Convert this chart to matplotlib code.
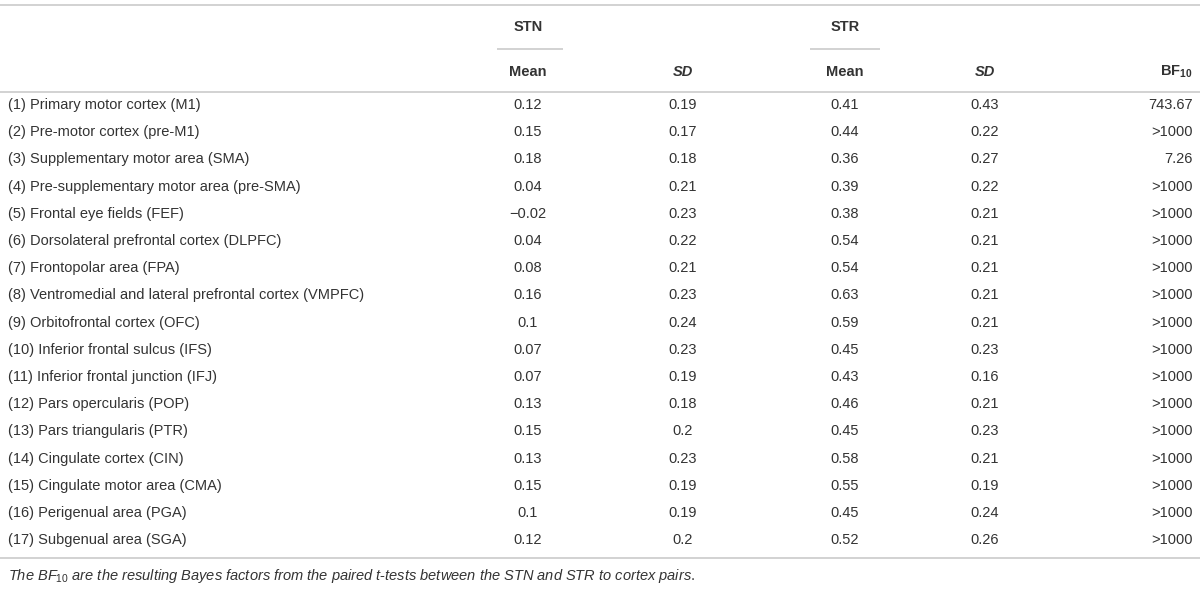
import matplotlib.pyplot as plt

regions = [
    '(1) Primary motor cortex (M1)',
    '(2) Pre-motor cortex (pre-M1)',
    '(3) Supplementary motor area (SMA)',
    '(4) Pre-supplementary motor area (pre-SMA)',
    '(5) Frontal eye fields (FEF)',
    '(6) Dorsolateral prefrontal cortex (DLPFC)',
    '(7) Frontopolar area (FPA)',
    '(8) Ventromedial and lateral prefrontal cortex (VMPFC)',
    '(9) Orbitofrontal cortex (OFC)',
    '(10) Inferior frontal sulcus (IFS)',
    '(11) Inferior frontal junction (IFJ)',
    '(12) Pars opercularis (POP)',
    '(13) Pars triangularis (PTR)',
    '(14) Cingulate cortex (CIN)',
    '(15) Cingulate motor area (CMA)',
    '(16) Perigenual area (PGA)',
    '(17) Subgenual area (SGA)',
]
stn_mean = [0.12, 0.15, 0.18, 0.04, -0.02, 0.04, 0.08, 0.16, 0.1, 0.07, 0.07, 0.13, 0.15, 0.13, 0.15, 0.1, 0.12]
stn_sd = [0.19, 0.17, 0.18, 0.21, 0.23, 0.22, 0.21, 0.23, 0.24, 0.23, 0.19, 0.18, 0.2, 0.23, 0.19, 0.19, 0.2]
str_mean = [0.41, 0.44, 0.36, 0.39, 0.38, 0.54, 0.54, 0.63, 0.59, 0.45, 0.43, 0.46, 0.45, 0.58, 0.55, 0.45, 0.52]
str_sd = [0.43, 0.22, 0.27, 0.22, 0.21, 0.21, 0.21, 0.21, 0.21, 0.23, 0.16, 0.21, 0.23, 0.21, 0.19, 0.24, 0.26]
bf10 = ['743.67', '>1000', '7.26'] + ['>1000'] * 14

footnote = ('$\\mathit{The\\ BF_{10}}$ $\\mathit{are\\ the\\ resulting\\ Bayes\\ factors\\ from\\ the\\ '
            'paired\\ t}$-$\\mathit{tests\\ between\\ the\\ STN\\ and\\ STR\\ to\\ cortex\\ pairs.}$')

plt.rcParams['font.family'] = ['Liberation Sans', 'DejaVu Sans']
plt.rcParams['mathtext.fontset'] = 'custom'
plt.rcParams['mathtext.rm'] = 'Liberation Sans'
plt.rcParams['mathtext.it'] = 'Liberation Sans:italic'
plt.rcParams['mathtext.bf'] = 'Liberation Sans:bold'

TXT = '#333333'
LINE = '#cfcfcf'
FS = 10.5


def fmt(v):
    return str(v).replace('-', '\u2212')


fig = plt.figure(figsize=(12, 5.9), dpi=100)
ax = fig.add_axes([0, 0, 1, 1])
ax.set_xlim(0, 1200)
ax.set_ylim(590, 0)
ax.axis('off')

# rules
ax.hlines([5, 92, 558], 0, 1200, color=LINE, lw=1.3)
ax.hlines(49, 497, 563, color=LINE, lw=1.3)
ax.hlines(49, 810, 880, color=LINE, lw=1.3)

# header
ax.text(528, 27, 'STN', ha='center', va='center', fontsize=FS, fontweight='bold', color=TXT)
ax.text(845, 27, 'STR', ha='center', va='center', fontsize=FS, fontweight='bold', color=TXT)
ax.text(528, 72, 'Mean', ha='center', va='center', fontsize=FS, fontweight='bold', color=TXT)
ax.text(683, 72, 'SD', ha='center', va='center', fontsize=FS, fontweight='bold', style='italic', color=TXT)
ax.text(845, 72, 'Mean', ha='center', va='center', fontsize=FS, fontweight='bold', color=TXT)
ax.text(985, 72, 'SD', ha='center', va='center', fontsize=FS, fontweight='bold', style='italic', color=TXT)
ax.text(1193, 72, '$\\mathbf{BF_{10}}$', ha='right', va='center', fontsize=FS, color=TXT)

# body
y0, dy = 105, 27.2
for i, name in enumerate(regions):
    y = y0 + i * dy
    ax.text(8, y, name, ha='left', va='center', fontsize=FS, color=TXT)
    ax.text(528, y, fmt(stn_mean[i]), ha='center', va='center', fontsize=FS, color=TXT)
    ax.text(683, y, fmt(stn_sd[i]), ha='center', va='center', fontsize=FS, color=TXT)
    ax.text(845, y, fmt(str_mean[i]), ha='center', va='center', fontsize=FS, color=TXT)
    ax.text(985, y, fmt(str_sd[i]), ha='center', va='center', fontsize=FS, color=TXT)
    ax.text(1193, y, bf10[i], ha='right', va='center', fontsize=FS, color=TXT)

ax.text(8, 576, footnote, ha='left', va='center', fontsize=FS, color=TXT)

plt.savefig('out.png', dpi=100)
